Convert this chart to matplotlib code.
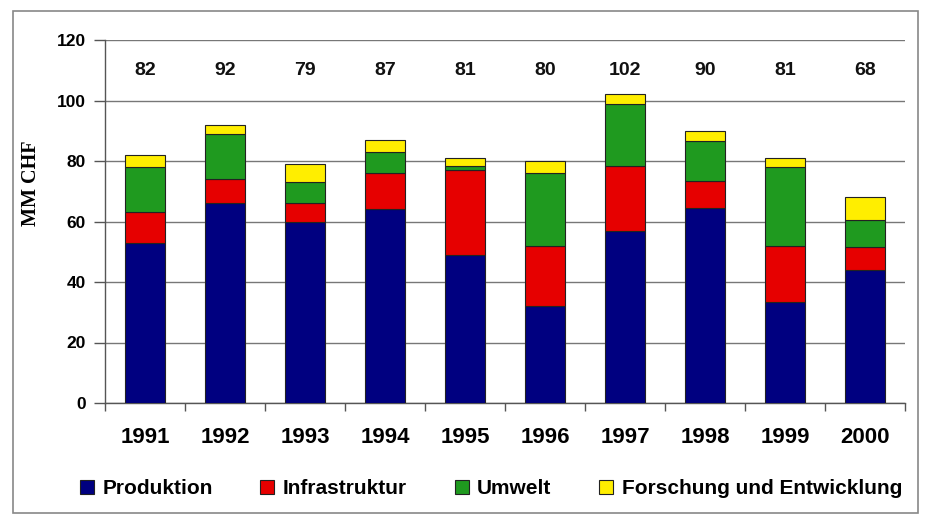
import matplotlib
matplotlib.use("Agg")
import matplotlib.pyplot as plt
import numpy as np
from matplotlib.patches import Rectangle

years = ["1991", "1992", "1993", "1994", "1995", "1996", "1997", "1998", "1999", "2000"]
produktion = [53, 66, 60, 64, 49, 32, 57, 64.5, 33.5, 44]
infrastruktur = [10, 8, 6, 12, 28, 20, 21.5, 9, 18.5, 7.5]
umwelt = [15, 15, 7, 7, 1.5, 24, 20.5, 13, 26, 9]
forschung = [4, 3, 6, 4, 2.5, 4, 3, 3.5, 3, 7.5]
totals = [82, 92, 79, 87, 81, 80, 102, 90, 81, 68]
series_names = ["Produktion", "Infrastruktur", "Umwelt", "Forschung und Entwicklung"]
colors = ["#000080", "#E60000", "#1F9A1F", "#FFEE00"]

plt.rcParams['font.family'] = ['Liberation Sans', 'DejaVu Sans']

fig = plt.figure(figsize=(9.25, 5.15), dpi=100)
ax = fig.add_axes([105/925, 1-403/515, 800/925, 363/515])

x = np.arange(len(years))
bottom = np.zeros(len(years))
for vals, c in zip([produktion, infrastruktur, umwelt, forschung], colors):
    ax.bar(x, vals, width=0.49, bottom=bottom, color=c, edgecolor="#222222",
           linewidth=0.8, zorder=3)
    bottom += np.array(vals)

for xi, t in zip(x, totals):
    ax.text(xi, 110, str(t), ha="center", va="center", fontsize=14,
            fontweight="bold", color="#111111")

ax.set_xlim(-0.5, len(years) - 0.5)
ax.set_ylim(0, 120)
ax.set_yticks(np.arange(0, 121, 20))
ax.set_yticklabels([str(v) for v in range(0, 121, 20)], fontsize=12.5, fontweight="bold")
ax.yaxis.grid(True, color="#777777", linewidth=1.0, zorder=0)
ax.tick_params(axis="y", length=8, width=1, color="#555555", pad=6)

ax.set_xticks(x)
ax.set_xticklabels(years, fontsize=16, fontweight="bold")
ax.set_xticks(np.arange(-0.5, len(years), 1), minor=True)
ax.tick_params(axis="x", which="major", length=0, pad=17)
ax.tick_params(axis="x", which="minor", length=6, width=1, color="#555555")

for s in ["top", "right"]:
    ax.spines[s].set_visible(False)
for s in ["left", "bottom"]:
    ax.spines[s].set_color("#555555")
    ax.spines[s].set_linewidth(1.0)

fig.text(31/925, 1-183/515, "MM CHF", rotation=90, ha="center", va="center",
         fontsize=14.5, fontweight="bold", family=["Liberation Serif", "DejaVu Serif"])

handles = [Rectangle((0, 0), 1, 1, facecolor=c, edgecolor="#222222", linewidth=0.8)
           for c in colors]
leg = fig.legend(handles, series_names, loc="center", bbox_to_anchor=(491/925, 1-489/515),
                 ncol=4, frameon=False, prop={"weight": "bold", "size": 15},
                 handlelength=0.67, handleheight=0.67, handletextpad=0.4, columnspacing=2.3)

fig.patches.append(Rectangle((13/925, 0.004), 905/925, 1-11/515-0.004,
                             transform=fig.transFigure, fill=False,
                             edgecolor="#888888", linewidth=1.2))

fig.savefig("out.png", dpi=100)
